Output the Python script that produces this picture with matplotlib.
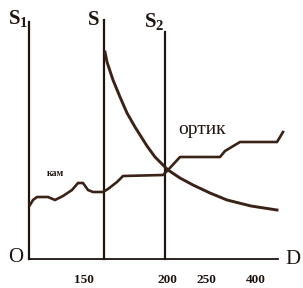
import numpy as np
import matplotlib.pyplot as plt

# stepped "кам / ортик" line (x from origin, y up)
step_x = [1, 4, 8, 14, 19, 26, 34, 43, 49, 54, 59, 64, 74, 79, 88, 94,
          134, 139, 151, 171, 191, 196, 211, 248, 254]
step_y = [54, 59, 62, 62, 62, 59, 63, 69, 76, 76, 69, 67, 67, 70, 77, 83,
          84, 89, 102, 102, 102, 108, 117, 117, 127]

# falling curve starting at S
curve_x = [76, 78, 84, 91, 98, 106, 118, 126, 139, 151, 164, 181, 198,
           222, 248]
curve_y = [207, 197, 179, 162, 146, 132, 113, 102, 89, 81, 74, 66, 59,
           53, 49]

# vertical lines: left axis, S, S2
vline_x = [0, 75, 136]
vline_top = [237, 239, 227]
vline_labels = [r'$\mathbf{S}_\mathbf{1}$', r'$\mathbf{S}$',
                r'$\mathbf{S}_\mathbf{2}$']

tick_pos = [55, 138, 177, 227]
tick_labels = ['150', '200', '250', '400']

ink = '#1e1410'
brown = '#3a2216'

plt.rcParams['font.family'] = ['Liberation Serif', 'DejaVu Serif']
plt.rcParams['mathtext.fontset'] = 'custom'
plt.rcParams['mathtext.rm'] = 'Liberation Serif'
plt.rcParams['mathtext.bf'] = 'Liberation Serif:bold'

fig = plt.figure(figsize=(3.03, 2.88), dpi=100)
ax = fig.add_axes([29 / 303, 29 / 288, 250 / 303, 240 / 288])
ax.set_xlim(0, 250)
ax.set_ylim(0, 240)
for sp in ax.spines.values():
    sp.set_visible(False)

for x, top in zip(vline_x, vline_top):
    ax.plot([x, x], [0, top], color=ink, lw=1.6, clip_on=False)
ax.plot([0, 249], [0, 0], color=ink, lw=1.3, clip_on=False)

ax.plot(step_x, step_y, color=brown, lw=1.9, clip_on=False,
        solid_joinstyle='round')
ax.plot(curve_x, curve_y, color=brown, lw=2.1, clip_on=False,
        solid_joinstyle='round')

label_x = [-11, 64, 125]
label_y = [229, 229, 226]
for lx, ly, lab in zip(label_x, label_y, vline_labels):
    ax.text(lx, ly, lab, fontsize=15, color=ink, ha='center', va='bottom')

ax.text(-13, 2, 'O', fontsize=15, color=ink, ha='center', va='center')
ax.text(264, 0, 'D', fontsize=15, color=ink, ha='center', va='center')
ax.text(149, 130, 'ортик', fontsize=14, color=ink, ha='left', va='center')
ax.text(26, 85, 'кам', fontsize=7, fontweight='bold', color=ink,
        ha='center', va='center')

ax.set_xticks(tick_pos)
ax.set_xticklabels(tick_labels, fontsize=9.5, fontweight='bold', color=ink)
ax.tick_params(axis='x', length=0, pad=11)
ax.set_yticks([])

fig.savefig('out.png', dpi=100, facecolor='white')
